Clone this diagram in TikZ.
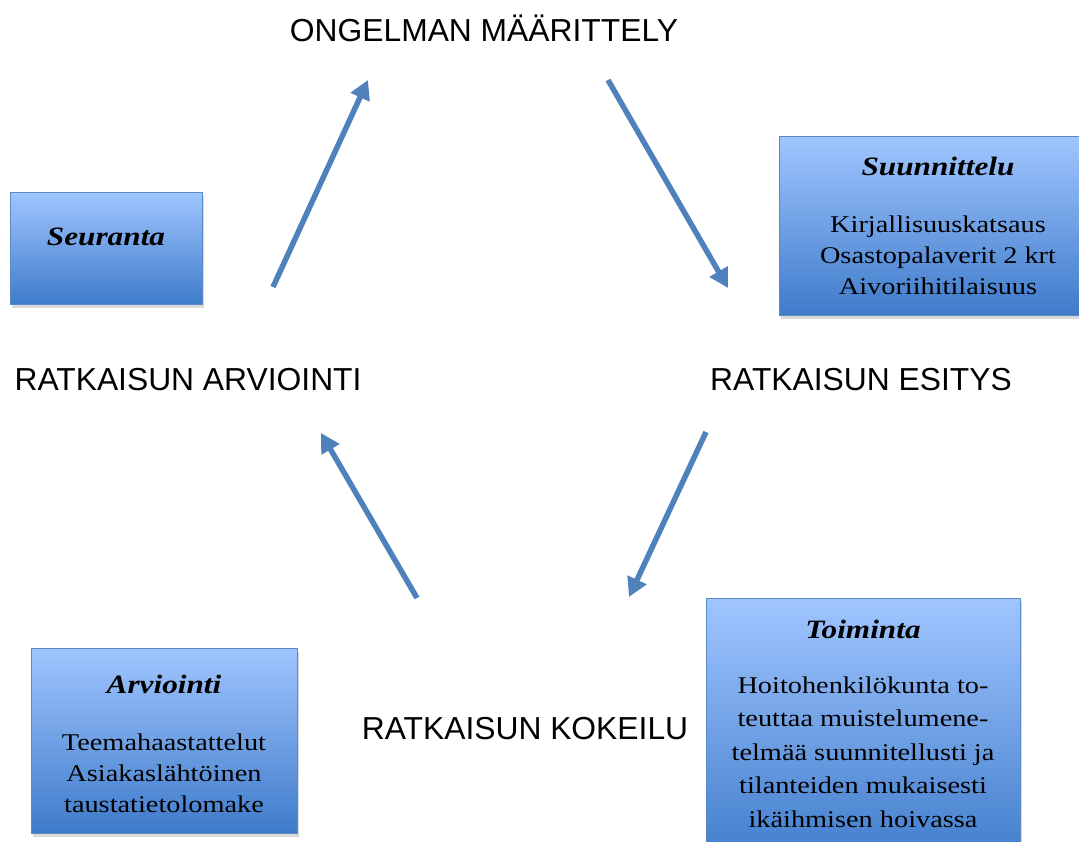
\documentclass[tikz,border=0pt]{standalone}
\usepackage{fontspec}
\setmainfont[FakeStretch=1.18]{Liberation Serif}
\newfontfamily\labelfont{Liberation Sans}
\usepackage{tikz}
\usetikzlibrary{arrows.meta,shadows}
\definecolor{boxtop}{HTML}{A0C5FF}
\definecolor{boxbottom}{HTML}{3E7BCA}
\definecolor{boxedge}{HTML}{5A8AC6}
\definecolor{arrowblue}{HTML}{4F81BD}
\tikzset{
    info-box/.style = {draw=boxedge, line width=1pt, rectangle, inner sep=0pt, top color=boxtop, bottom color=boxbottom, drop shadow={shadow xshift=1.5pt, shadow yshift=-3pt, opacity=0.3}},
    info-title/.style = {font=\fontsize{26.5}{31}\selectfont\bfseries\itshape, inner sep=0pt, anchor=base},
    info-text/.style = {font=\fontsize{24}{31}\selectfont, align=center, inner sep=0pt, anchor=north},
    phase-label/.style = {font=\labelfont\fontsize{31.8}{36}\selectfont, inner sep=0pt, anchor=base},
    cycle-arrow/.style = {draw=arrowblue, line width=5.5pt, -{Triangle[length=19pt,width=20pt]}},
}

\begin{document}
\begin{tikzpicture}[x=1pt,y=-1pt]
\useasboundingbox (0,0) rectangle (1079,841);
\clip (0,0) rectangle (1079,841);

% phases of the cycle
\node[phase-label] (maarittely) at (484,41) {ONGELMAN MÄÄRITTELY};
\node[phase-label] (esitys) at (861,390) {RATKAISUN ESITYS};
\node[phase-label] (kokeilu) at (525,739) {RATKAISUN KOKEILU};
\node[phase-label] (arviointi) at (188,390) {RATKAISUN ARVIOINTI};

% arrows between the phases
\coordinate (up-tail) at (273,287);
\coordinate (up-head) at (368,80);
\coordinate (right-tail) at (608,80);
\coordinate (right-head) at (728,288);
\coordinate (down-tail) at (706,432);
\coordinate (down-head) at (629,597);
\coordinate (left-tail) at (417,598);
\coordinate (left-head) at (321,433);
\draw[cycle-arrow] (up-tail) -- (up-head);
\draw[cycle-arrow] (right-tail) -- (right-head);
\draw[cycle-arrow] (down-tail) -- (down-head);
\draw[cycle-arrow] (left-tail) -- (left-head);

% boxes
\node[info-box, anchor=north west, minimum width=192pt, minimum height=112pt] (seuranta-box) at (10,192) {};
\node[info-title] (seuranta) at (106,245) {Seuranta};

\node[info-box, anchor=north west, minimum width=320pt, minimum height=179pt] (suunnittelu-box) at (779,136) {};
\node[info-title] (suunnittelu) at (938,175) {Suunnittelu};
\node[info-text] (suunnittelu-text) at (938,215.3) {Kirjallisuuskatsaus\\Osastopalaverit 2 krt\\Aivoriihitilaisuus};

\node[info-box, anchor=north west, minimum width=314pt, minimum height=270pt] (toiminta-box) at (706,598) {};
\node[info-title] (toiminta) at (863,638) {Toiminta};
\node[info-text, font=\fontsize{24}{33.4}\selectfont] (toiminta-text) at (863,676.6) {Hoitohenkilökunta to-\\teuttaa muistelumene-\\telmää suunnitellusti ja\\tilanteiden mukaisesti\\ikäihmisen hoivassa};

\node[info-box, anchor=north west, minimum width=266pt, minimum height=185pt] (arvio-box) at (31,648) {};
\node[info-title] (arvio) at (164,693) {Arviointi};
\node[info-text] (arvio-text) at (164,733.6) {Teemahaastattelut\\Asiakaslähtöinen\\taustatietolomake};
\end{tikzpicture}
\end{document}
